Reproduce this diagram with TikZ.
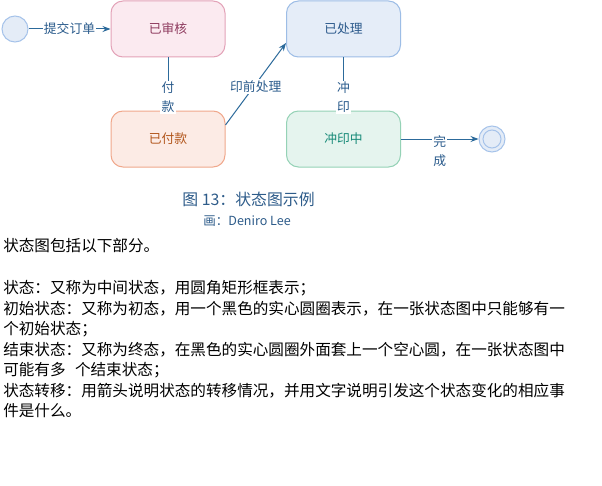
\documentclass[tikz,border=0pt]{standalone}
\usepackage{fontspec}
\setmainfont{Noto Sans CJK SC}
\usetikzlibrary{arrows.meta}
\definecolor{edgeblue}{HTML}{2C6A9B}
\definecolor{lblblue}{HTML}{2A5B8C}
\definecolor{circfill}{HTML}{E4ECF7}
\definecolor{circdraw}{HTML}{A6C3EA}
\definecolor{pinkfill}{HTML}{FBEAF0}
\definecolor{pinkdraw}{HTML}{E3A3B8}
\definecolor{pinktext}{HTML}{8E3A5E}
\definecolor{orfill}{HTML}{FCEBE5}
\definecolor{ordraw}{HTML}{F0A88C}
\definecolor{ortext}{HTML}{B2561C}
\definecolor{blfill}{HTML}{E5EDF8}
\definecolor{bldraw}{HTML}{9DBDE6}
\definecolor{bltext}{HTML}{2C5A8C}
\definecolor{grfill}{HTML}{E5F4EE}
\definecolor{grdraw}{HTML}{95D2B6}
\definecolor{grtext}{HTML}{178A78}
\definecolor{captext}{HTML}{2E5C8A}
\begin{document}
\begin{tikzpicture}[x=0.75pt,y=-0.75pt,
  statebox/.style={draw, rounded corners=9pt, minimum width=85.5pt, minimum height=42pt, line width=0.75pt, font=\fontsize{9.6}{11}\selectfont},
  startcirc/.style={circle, draw=circdraw, fill=circfill, line width=0.75pt, minimum size=19.5pt, inner sep=0pt},
  conn/.style={draw=edgeblue, line width=0.75pt, -{Stealth[length=6pt,width=4.5pt]}},
  elabel/.style={fill=white, inner sep=1pt, text=lblblue, align=center, font=\fontsize{9.6}{14.25}\selectfont},
  bodyline/.style={anchor=west, inner sep=0pt, font=\fontsize{11.7}{14}\selectfont}]
\useasboundingbox (0,0) rectangle (602,485);
\fill[white] (0,0) rectangle (602,485);

\node[startcirc] (start) at (15,29) {};
\node[statebox, fill=pinkfill, draw=pinkdraw, text=pinktext] (shenhe) at (168,29) {已审核};
\node[statebox, fill=orfill, draw=ordraw, text=ortext] (fukuan) at (168,139) {已付款};
\node[statebox, fill=blfill, draw=bldraw, text=bltext] (chuli) at (343.5,29) {已处理};
\node[statebox, fill=grfill, draw=grdraw, text=grtext] (chongyin) at (343.5,139) {冲印中};
\node[circle, draw=circdraw, fill=circfill, line width=0.75pt, minimum size=19.5pt, inner sep=0pt] (final) at (492,139) {};
\node[circle, draw=circdraw, fill=circfill, line width=0.75pt, minimum size=13.5pt, inner sep=0pt] (finalin) at (492,139) {};

\path[conn] (start) -- node[elabel, pos=0.5] {提交订单} (shenhe);
\path[conn] (shenhe) -- node[elabel, pos=0.75] {付\\款} (fukuan);
\path[conn] (fukuan.east |- 0,125) -- node[elabel, pos=0.5, yshift=-2pt] {印前处理} (chuli.west |- 0,43);
\path[conn] (chuli) -- node[elabel, pos=0.75] {冲\\印} (chongyin);
\path[conn] (chongyin) -- node[elabel, pos=0.5, yshift=-9.4pt] {完\\成} (final);

\node[text=captext, font=\fontsize{11.9}{13}\selectfont] (cap) at (248.5,199) {图 13：状态图示例};
\node[text=captext, font=\fontsize{9.4}{11}\selectfont] (auth) at (247,221) {画：Deniro Lee};

\node[bodyline] (l1) at (3,246) {状态图包括以下部分。};
\node[bodyline] (l2) at (3,288) {状态：又称为中间状态，用圆角矩形框表示；};
\node[bodyline] (l3) at (3,309) {初始状态：又称为初态，用一个黑色的实心圆圈表示，在一张状态图中只能够有一};
\node[bodyline] (l4) at (3,329) {个初始状态；};
\node[bodyline] (l5) at (3,350) {结束状态：又称为终态，在黑色的实心圆圈外面套上一个空心圆，在一张状态图中};
\node[bodyline] (l6) at (3,370) {可能有多\hspace{0.6em}个结束状态；};
\node[bodyline] (l7) at (3,391) {状态转移：用箭头说明状态的转移情况，并用文字说明引发这个状态变化的相应事};
\node[bodyline] (l8) at (3,411) {件是什么。};
\end{tikzpicture}
\end{document}
